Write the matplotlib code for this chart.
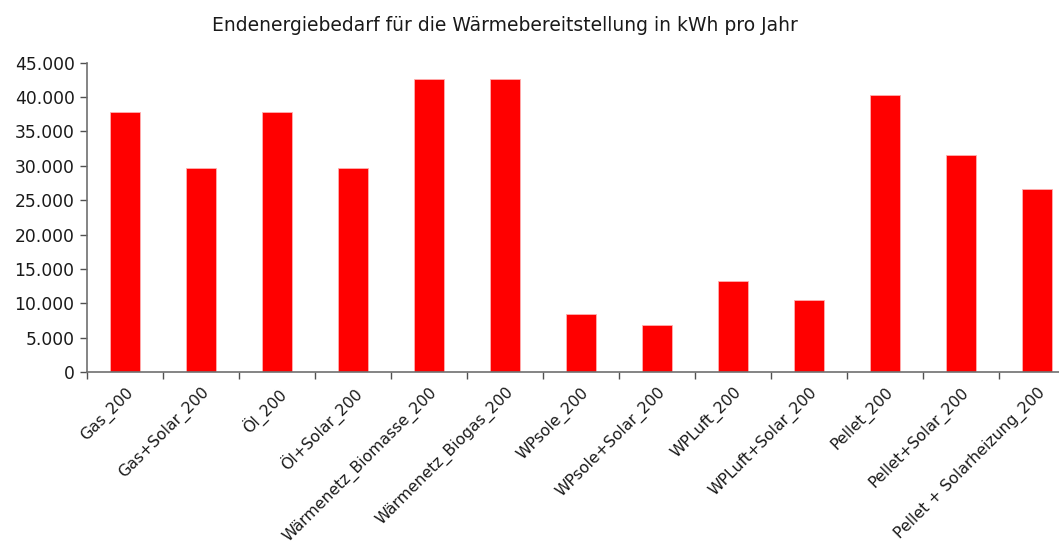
import matplotlib
matplotlib.use("Agg")
import matplotlib.pyplot as plt
from matplotlib.ticker import FuncFormatter, FixedLocator
from matplotlib.transforms import ScaledTranslation
import numpy as np

plt.rcParams['font.family'] = ['DejaVu Sans']

categories = [
    "Gas_200", "Gas+Solar_200", "Öl_200", "Öl+Solar_200",
    "Wärmenetz_Biomasse_200", "Wärmenetz_Biogas_200", "WPsole_200",
    "WPsole+Solar_200", "WPLuft_200", "WPLuft+Solar_200", "Pellet_200",
    "Pellet+Solar_200", "Pellet + Solarheizung_200",
]
values = [37800, 29750, 37800, 29750, 42600, 42600, 8500,
          6900, 13300, 10450, 40250, 31550, 26650]
title = "Endenergiebedarf für die Wärmebereitstellung in kWh pro Jahr"

fig = plt.figure(figsize=(10.59, 5.47), dpi=100)
# axis runs past the right edge of the figure
ax = fig.add_axes([0.0822, 0.3199, 0.9330, 0.5655])

x = np.arange(len(categories))
ax.bar(x, values, width=0.40, color="#ff0000", edgecolor="#ffb0b0", linewidth=0.6)

ax.set_xlim(-0.5, len(categories) - 0.5)
ax.set_ylim(0, 45000)
ax.set_yticks(np.arange(0, 45001, 5000))
ax.yaxis.set_major_formatter(FuncFormatter(lambda v, p: f"{int(v):,}".replace(",", ".")))

ax.set_xticks(x)
ax.set_xticklabels(categories, rotation=45, ha="right", rotation_mode="anchor",
                   fontsize=11.3, color="#1a1a1a")
shift = ScaledTranslation(6 / 100, 0, fig.dpi_scale_trans)
for lbl in ax.get_xticklabels():
    lbl.set_transform(lbl.get_transform() + shift)
ax.xaxis.set_minor_locator(FixedLocator(np.arange(-0.5, len(categories), 1.0)))
ax.tick_params(axis="x", which="major", length=0, pad=9)
ax.tick_params(axis="x", which="minor", length=5, width=1, color="#505050", direction="out")
ax.tick_params(axis="y", length=5, width=1, color="#505050", direction="out",
               labelsize=12.3, labelcolor="#1a1a1a", pad=4)

for s in ("top", "right"):
    ax.spines[s].set_visible(False)
for s in ("left", "bottom"):
    ax.spines[s].set_color("#707070")
    ax.spines[s].set_linewidth(1.2)

fig.text(0.477, 0.953, title, ha="center", va="center", fontsize=13.5, color="#1a1a1a")

fig.savefig("out.png", dpi=100)
